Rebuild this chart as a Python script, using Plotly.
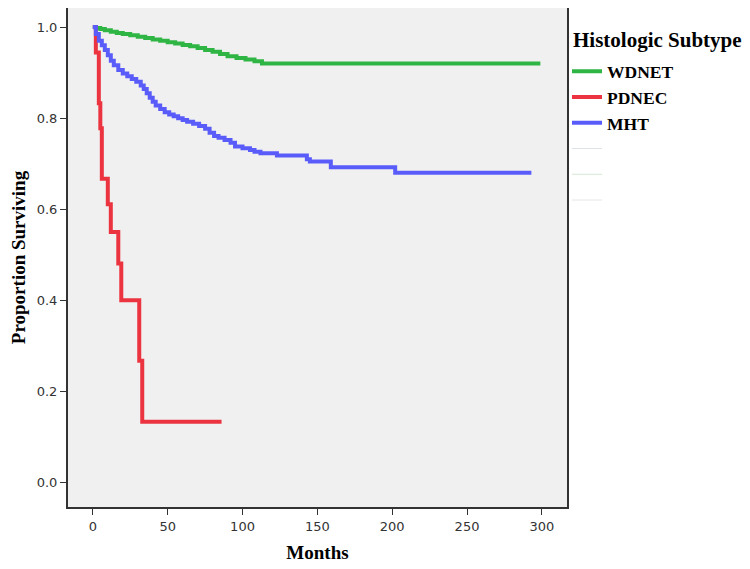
import plotly.graph_objects as go

# Kaplan-Meier curves by histologic subtype
wdnet_months = [0, 2, 5, 8, 12, 16, 20, 25, 30, 35, 40, 45, 50, 55, 60, 65, 70, 75,
                80, 85, 90, 96, 102, 108, 113, 299]
wdnet_surv = [1.0, 0.998, 0.996, 0.993, 0.990, 0.987, 0.985, 0.982, 0.979, 0.976,
              0.973, 0.970, 0.967, 0.964, 0.961, 0.958, 0.954, 0.950, 0.946, 0.941,
              0.936, 0.932, 0.929, 0.925, 0.920, 0.920]

pdnec_months = [0, 2, 4, 5, 6, 10, 12, 17, 19, 31, 33, 86]
pdnec_surv = [1.0, 0.944, 0.833, 0.778, 0.667, 0.611, 0.550, 0.481, 0.400, 0.267, 0.133, 0.133]

mht_months = [0, 2, 4, 6, 8, 10, 12, 14, 17, 20, 23, 26, 29, 32, 34, 36, 38, 40, 42,
              45, 48, 51, 54, 57, 60, 63, 67, 71, 75, 78, 81, 84, 88, 92, 95, 100, 105,
              108, 112, 123, 143, 145, 159, 202, 293]
mht_surv = [1.0, 0.985, 0.970, 0.960, 0.950, 0.938, 0.926, 0.916, 0.906, 0.898, 0.892,
            0.886, 0.880, 0.872, 0.864, 0.855, 0.845, 0.836, 0.828, 0.820, 0.813, 0.808,
            0.804, 0.800, 0.796, 0.792, 0.788, 0.783, 0.777, 0.768, 0.761, 0.757, 0.752,
            0.746, 0.738, 0.734, 0.730, 0.726, 0.723, 0.718, 0.710, 0.705, 0.692, 0.680,
            0.680]

x_ticks = [0, 50, 100, 150, 200, 250, 300]
y_ticks = [0.0, 0.2, 0.4, 0.6, 0.8, 1.0]

serif = "Liberation Serif, Times New Roman, serif"
sans = "DejaVu Sans, Arial, sans-serif"

fig = go.Figure()
fig.add_trace(go.Scatter(x=wdnet_months, y=wdnet_surv, name="<b>WDNET</b>", mode="lines",
                         line=dict(color="#2fb544", width=4, shape="hv")))
fig.add_trace(go.Scatter(x=pdnec_months, y=pdnec_surv, name="<b>PDNEC</b>", mode="lines",
                         line=dict(color="#ec3440", width=4, shape="hv")))
fig.add_trace(go.Scatter(x=mht_months, y=mht_surv, name="<b>MHT</b>", mode="lines",
                         line=dict(color="#5a5cfa", width=4, shape="hv")))

# faint empty legend rows (censored markers in the original)
for c in ["#dde3ea", "#d6e8d6", "#e6e6e6"]:
    fig.add_trace(go.Scatter(x=[None], y=[None], name=" ", mode="lines",
                             line=dict(color=c, width=1)))

# page body adds an 8px offset, so the figure is a bit smaller than the window
fig.update_layout(
    width=742, height=561,
    margin=dict(l=60, r=183, t=0, b=62, autoexpand=False),
    paper_bgcolor="white",
    plot_bgcolor="#f0f0f0",
    showlegend=True,
    legend=dict(
        font=dict(family=serif, size=17.5, color="black"),
        x=1.0, xanchor="left", y=0.909, yanchor="top",
        bgcolor="rgba(0,0,0,0)", tracegroupgap=0, itemwidth=30,
    ),
)
fig.add_annotation(text="<b>Histologic Subtype</b>", xref="paper", yref="paper",
                   x=1.008, y=0.935, xanchor="left", yanchor="middle", showarrow=False,
                   font=dict(family=serif, size=21, color="black"))

fig.update_xaxes(
    range=[-16.6, 316.8], tickvals=x_ticks, ticks="outside", ticklen=6,
    tickcolor="#333", tickfont=dict(family=sans, size=13, color="#333"),
    showgrid=False, zeroline=False, showline=True, mirror=True,
    linecolor="#333", linewidth=2, automargin=False,
    title=dict(text="<b>Months</b>", font=dict(family=serif, size=19, color="black"), standoff=13),
)
fig.update_yaxes(
    range=[-0.054, 1.042], tickvals=y_ticks, tickformat=".1f", ticks="outside", ticklen=6,
    tickcolor="#333", tickfont=dict(family=sans, size=13, color="#333"),
    showgrid=False, zeroline=False, showline=True, mirror=True,
    linecolor="#333", linewidth=2, automargin=False,
    title=dict(text="<b>Proportion Surviving</b>", font=dict(family=serif, size=19, color="black"), standoff=8),
)

fig.write_html("out.html")
